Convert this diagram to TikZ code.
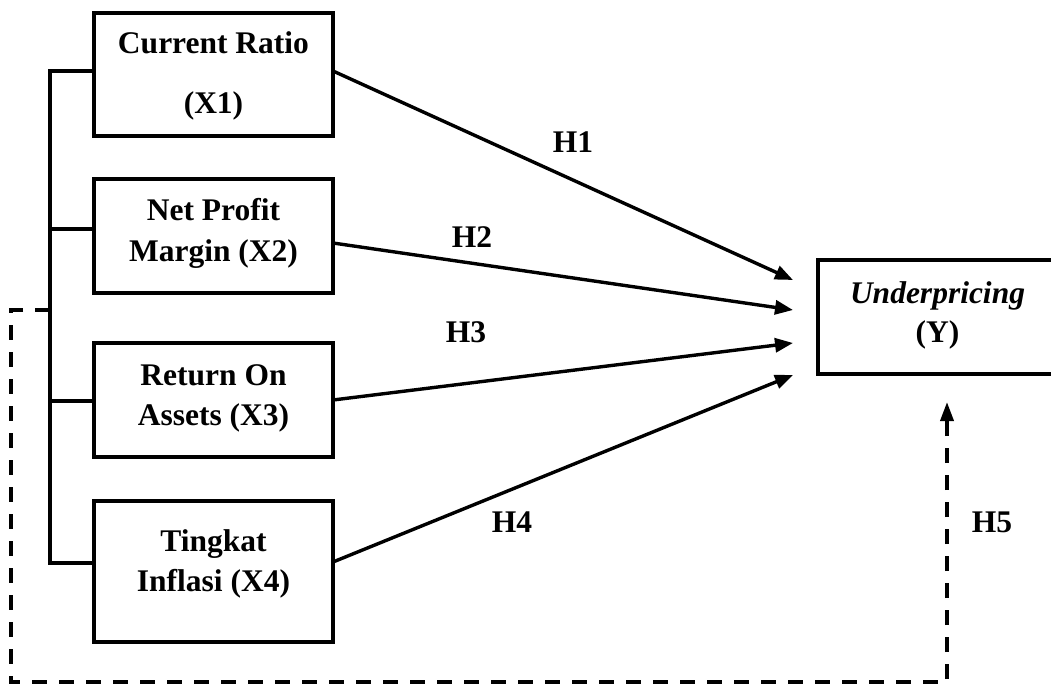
\documentclass[tikz,border=0pt]{standalone}
\usepackage{fontspec}
\setmainfont{Liberation Serif}
\usetikzlibrary{arrows.meta}
\begin{document}
\begin{tikzpicture}[x=1pt,y=-1pt,
  box/.style={draw, line width=3.6pt, inner sep=0pt, outer sep=0pt, minimum width=239pt},
  txt/.style={font=\bfseries\fontsize{31.5}{38}\selectfont, anchor=base, inner sep=0pt},
  hlab/.style={font=\bfseries\fontsize{31.5}{38}\selectfont, inner sep=0pt},
  conn/.style={line width=3.4pt},
  arr/.style={line width=3.4pt, -{Triangle[length=18pt,width=14pt]}},
  dash5/.style={line width=3.6pt, dash pattern=on 15pt off 12pt, -{Triangle[length=19pt,width=13pt]}}]
\useasboundingbox (0,0) rectangle (1051,684);
\clip (0,0) rectangle (1051,684);

% boxes
\node[box, minimum height=123pt] (x1) at (213.5,74.5) {};
\node[box, minimum height=114pt] (x2) at (213.5,236) {};
\node[box, minimum height=114pt] (x3) at (213.5,400) {};
\node[box, minimum height=141pt] (x4) at (213.5,571.5) {};
\node[box, minimum width=252pt, minimum height=114pt] (y) at (944,317) {};

% texts
\node[txt] (t1a) at (213.5,54) {Current Ratio};
\node[txt] (t1b) at (213.5,114) {(X1)};
\node[txt] (t2a) at (213.5,221) {Net Profit};
\node[txt] (t2b) at (213.5,262) {Margin (X2)};
\node[txt] (t3a) at (213.5,385) {Return On};
\node[txt] (t3b) at (213.5,425) {Assets (X3)};
\node[txt] (t4a) at (213.5,551) {Tingkat};
\node[txt] (t4b) at (213.5,591) {Inflasi (X4)};
\node[txt] (tya) at (937.5,303) {\itshape Underpricing};
\node[txt] (tyb) at (937.5,342) {(Y)};

% bracket
\coordinate (k1) at (50,71);
\coordinate (k2) at (50,229);
\coordinate (k3) at (50,401);
\coordinate (k4) at (50,563);
\draw[conn] ([yshift=1.7pt]k1) -- ([yshift=-1.7pt]k4);
\draw[conn] (k1) -- (k1 -| x1.west);
\draw[conn] (k2) -- (k2 -| x2.west);
\draw[conn] (k3) -- (k3 -| x3.west);
\draw[conn] (k4) -- (k4 -| x4.west);

% arrows to Y
\coordinate (a1) at (793,280);
\coordinate (a2) at (793,310);
\coordinate (a3) at (793,343);
\coordinate (a4) at (793,375);
\draw[arr] ([yshift=3.5pt]x1.east) -- (a1);
\draw[arr] ([yshift=-7pt]x2.east) -- (a2);
\draw[arr] (x3.east) -- (a3);
\draw[arr] ([yshift=9.5pt]x4.east) -- (a4);

% dashed H5 path
\coordinate (d0) at (50,310);
\coordinate (d1) at (11,310);
\coordinate (d2) at (11,682);
\coordinate (d3) at (947,682);
\coordinate (d4) at (947,402);
\draw[dash5] (d0) -- (d1) -- (d2) -- (d3) -- (d4);

% labels
\node[hlab] (h1) at (573,142) {H1};
\node[hlab] (h2) at (472,237) {H2};
\node[hlab] (h3) at (466,332) {H3};
\node[hlab] (h4) at (512,522) {H4};
\node[hlab] (h5) at (992,522) {H5};
\end{tikzpicture}
\end{document}
